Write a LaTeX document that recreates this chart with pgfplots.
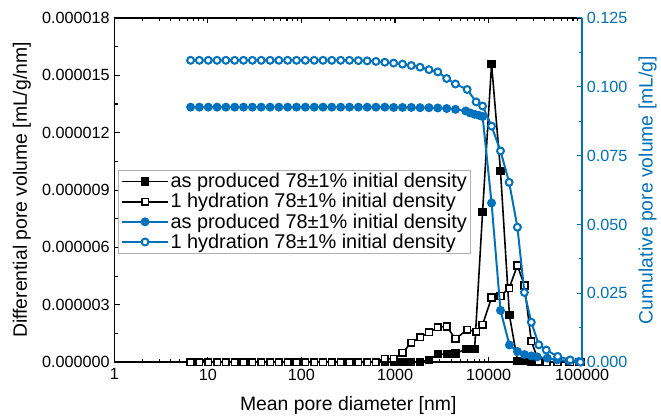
\documentclass[border=0pt]{standalone}
\usepackage{fontspec}
\setmainfont{Liberation Sans}
\usepackage{pgfplots}
\pgfplotsset{compat=1.18}
\pgfkeys{/pgf/number format/assume math mode=true}
\definecolor{oblue}{RGB}{0,114,189}
\newcommand{\fs}{\fontsize{12.2}{14.6}\selectfont}
\newcommand{\fl}{\fontsize{14.6}{17.5}\selectfont}
\newcommand{\fg}{\fontsize{15}{18}\selectfont}
\begin{document}
\begin{tikzpicture}
\begin{axis}[
  scale only axis, width=352.5pt, height=259.5pt,
  xmode=log, xmin=1, xmax=100000,
  clip=false,
  scaled y ticks=false,
  tick label style={font=\fs},
  label style={font=\fl},
  xticklabel style={yshift=-1.5pt},
  major tick length=4pt, minor tick length=2.5pt,
  minor y tick num=1,
  ymin=0, ymax=0.000018,
  axis y line*=left,
  xtick={1,10,100,1000,10000,100000},
  xticklabels={1,10,100,1000,10000,100000},
  ytick={0,0.000003,0.000006,0.000009,0.000012,0.000015,0.000018},
  yticklabels={0.000000,0.000003,0.000006,0.000009,0.000012,0.000015,0.000018},
  xlabel={Mean pore diameter [nm]},
  ylabel={Differential pore volume [mL/g/nm]},
  xlabel style={at={(axis description cs:0.5,-0.127)}, anchor=center},
  ylabel style={at={(axis description cs:-0.198,0.5)}, anchor=center, rotate=0},
  axis line style={line width=1.1pt},
  tick style={line width=0.8pt, black},
]
% as produced, differential
\addplot[black, line width=1.2pt, mark=square*, mark size=2.5pt] coordinates {
(6.52,0)(8.09,0)(10.07,0)(12.50,0)(15.55,0)(19.32,0)(23.99,0)(29.85,0)(37.07,0)(46.13,0)
(57.28,0)(71.12,0)(88.51,0)(109.9,0)(136.8,0)(169.8,0)(210.9,0)(262.4,0)(325.8,0)(405.5,0)
(503.5,0)(625.2,0)(778.0,0)(966.1,0)(1202,0)(1493,0)(1854,0)(2307,1.3e-7)(2864,4.2e-7)(3565,4.2e-7)
(4426,4.5e-7)(5690,6.8e-7)(6353,6.8e-7)(7096,7.0e-7)(8635,7.86e-6)(10767,1.56e-5)(13420,9.99e-6)
(16720,2.45e-6)(20350,8e-8)(24160,5e-8)(28650,3e-8)(33200,2e-8)(42460,1e-8)(54200,0)(72200,0)(92200,0)
};
% 1 hydration, differential
\addplot[black, line width=1.2pt, mark=square*, mark size=2.5pt, mark options={fill=white}] coordinates {
(6.52,0)(8.09,0)(10.07,0)(12.50,0)(15.55,0)(19.32,0)(23.99,0)(29.85,0)(37.07,0)(46.13,0)
(57.28,0)(71.12,0)(88.51,0)(109.9,0)(136.8,0)(169.8,0)(210.9,0)(262.4,0)(325.8,0)(405.5,0)
(503.5,0)(625.2,0)(778.0,1.7e-7)(966.1,1.7e-7)(1202,4.9e-7)(1493,1.02e-6)(1854,1.30e-6)(2307,1.56e-6)
(2864,1.82e-6)(3565,1.87e-6)(4426,1.22e-6)(5906,1.69e-6)(7362,1.59e-6)(8635,1.96e-6)(10767,3.38e-6)
(13420,3.46e-6)(16600,3.87e-6)(20350,5.06e-6)(24160,4.01e-6)(28650,1.09e-6)(34450,3e-8)(41410,0)
(54830,0)(74530,0)(95940,0)
};
\end{axis}
\begin{axis}[
  scale only axis, width=352.5pt, height=259.5pt,
  xmode=log, xmin=1, xmax=100000,
  clip=false,
  scaled y ticks=false,
  tick label style={font=\fs},
  label style={font=\fl},
  major tick length=4pt, minor tick length=2.5pt,
  minor y tick num=1,
  axis x line=none, axis y line*=right,
  ymin=0, ymax=0.125,
  ytick={0,0.025,0.05,0.075,0.1,0.125},
  yticklabels={0.000,0.025,0.050,0.075,0.100,0.125},
  y axis line style={oblue, line width=1.1pt},
  ytick style={oblue, line width=0.8pt},
  yticklabel style={oblue},
  ylabel={Cumulative pore volume [mL/g]},
  ylabel style={oblue, at={(axis description cs:1.14,0.5)}, anchor=center, rotate=0},
  legend style={at={(rel axis cs:0.0085,0.558)}, anchor=north west, draw=gray!60, fill=white,
    font=\fg, text=black, inner sep=1.5pt, row sep=1.2pt, nodes={inner sep=0.8pt}, cells={anchor=west}},
  legend image code/.code={\draw[mark repeat=2, mark phase=2] plot coordinates {(0cm,0cm) (0.62cm,0cm) (1.24cm,0cm)};},
]
\addlegendimage{black, line width=1.2pt, mark=square*, mark size=2.5pt}
\addlegendentry{as produced 78±1\% initial density}
\addlegendimage{black, line width=1.2pt, mark=square*, mark size=2.5pt, mark options={fill=white}}
\addlegendentry{1 hydration 78±1\% initial density}
% as produced, cumulative
\addplot[oblue, line width=1.5pt, mark=*, mark size=2.6pt] coordinates {
(6.52,0.0926)(8.09,0.0926)(10.07,0.0926)(12.50,0.0926)(15.55,0.0926)(19.32,0.0926)(23.99,0.0926)(29.85,0.0926)(37.07,0.0926)(46.13,0.0926)
(57.28,0.0926)(71.12,0.0926)(88.51,0.0926)(109.9,0.0926)(136.8,0.0926)(169.8,0.0926)(210.9,0.0926)(262.4,0.0926)(325.8,0.0926)(405.5,0.0926)
(503.5,0.0926)(625.2,0.0926)(778.0,0.0926)(966.1,0.0925)(1202,0.0925)(1493,0.0925)(1854,0.0924)(2307,0.0924)(2864,0.0923)(3565,0.0921)
(4426,0.0918)(5690,0.0912)(6353,0.0905)(7096,0.0900)(7925,0.0896)(8635,0.0892)(10767,0.0578)(13420,0.0188)
(16720,0.00625)(20350,0.00387)(24160,0.00278)(28650,0.00228)(33200,0.00191)(42460,0.00145)(54200,0.00083)(72200,0.00047)(92200,0.00025)
};
\addlegendentry{as produced 78±1\% initial density}
% 1 hydration, cumulative
\addplot[oblue, line width=1.5pt, mark=*, mark size=2.6pt, mark options={fill=white}] coordinates {
(6.52,0.1096)(8.09,0.1096)(10.07,0.1096)(12.50,0.1096)(15.55,0.1096)(19.32,0.1096)(23.99,0.1096)(29.85,0.1096)(37.07,0.1096)(46.13,0.1096)
(57.28,0.1096)(71.12,0.1096)(88.51,0.1096)(109.9,0.1096)(136.8,0.1096)(169.8,0.1096)(210.9,0.1096)(262.4,0.1096)(325.8,0.1096)(405.5,0.1095)
(503.5,0.1094)(625.2,0.1092)(778.0,0.1089)(966.1,0.1086)(1202,0.1082)(1493,0.1077)(1854,0.1071)(2307,0.1062)
(2864,0.1054)(3565,0.1030)(4426,0.1010)(5906,0.0990)(7362,0.0945)(8635,0.0930)(10767,0.0857)
(13420,0.0767)(16600,0.0653)(20350,0.0490)(24160,0.0253)(28650,0.0145)(34450,0.0063)(41410,0.0044)
(54830,0.0021)(74530,0.0008)(95940,0)
};
\addlegendentry{1 hydration 78±1\% initial density}
\path (rel axis cs:-0.2447,-0.1618) rectangle (rel axis cs:1.1617,1.052);
\end{axis}
\end{tikzpicture}
\end{document}
